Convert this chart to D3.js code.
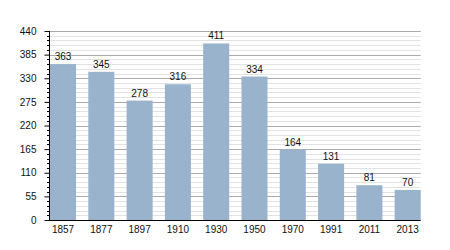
<!DOCTYPE html>
<html><head><meta charset="utf-8">
<script src="https://cdn.jsdelivr.net/npm/d3@7"></script>
<style>body{margin:0;background:#fff}svg{display:block}text{font-family:"Liberation Sans",Arial,sans-serif;font-size:10px;fill:#111}</style>
</head><body><svg id="c" width="450" height="250"></svg>
<script>
const years = ["1857","1877","1897","1910","1930","1950","1970","1991","2011","2013"];
const population = [363,345,278,316,411,334,164,131,81,70];
const yTicks = [0,55,110,165,220,275,330,385,440];

const L=50,R=420.7,T=31,B=220;
const svg=d3.select("#c");
const x=d3.scaleBand().domain(years).range([L,R]).paddingInner(0.32).paddingOuter(0);
const y=d3.scaleLinear().domain([0,440]).range([B,T]);
const minor=d3.range(0,441,11).filter(v=>v%55!==0);

svg.append("g").selectAll("line").data(minor).join("line")
 .attr("x1",L).attr("x2",R).attr("y1",d=>Math.round(y(d))+0.5).attr("y2",d=>Math.round(y(d))+0.5)
 .attr("stroke","#e2e2e2");
svg.append("g").selectAll("line").data(yTicks.filter(v=>v>0)).join("line")
 .attr("x1",L).attr("x2",R).attr("y1",d=>Math.round(y(d))+0.5).attr("y2",d=>Math.round(y(d))+0.5)
 .attr("stroke","#aaaaaa");

svg.append("g").selectAll("rect").data(population).join("rect")
 .attr("x",(d,i)=>x(years[i])).attr("width",x.bandwidth())
 .attr("y",d=>y(d)).attr("height",d=>B-y(d)).attr("fill","#9ab3cc");

svg.append("g").selectAll("text").data(population).join("text")
 .attr("x",(d,i)=>x(years[i])+x.bandwidth()/2).attr("y",d=>y(d)-4)
 .attr("text-anchor","middle").text(d=>d);

// minor ticks
svg.append("g").selectAll("line").data(minor).join("line")
 .attr("x1",L-3).attr("x2",L).attr("y1",d=>Math.round(y(d))+0.5).attr("y2",d=>Math.round(y(d))+0.5)
 .attr("stroke","#000");

const ya=svg.append("g").attr("transform",`translate(${L-0.5},0)`)
 .call(d3.axisLeft(y).tickValues(yTicks).tickSize(5).tickPadding(8));
ya.select(".domain").attr("d",`M0,${T}V${B}`).attr("stroke","#000");
ya.selectAll(".tick text").style("font-size","10px").attr("font-family",null);
ya.selectAll(".tick line").attr("stroke","#000");

const xa=svg.append("g").attr("transform",`translate(0,${B+0.5})`)
 .call(d3.axisBottom(x).tickSize(0).tickPadding(5));
xa.select(".domain").attr("d",`M${L-5},0H${R}`).attr("stroke","#000");
xa.selectAll(".tick text").style("font-size","10px").attr("font-family",null);
</script></body></html>
